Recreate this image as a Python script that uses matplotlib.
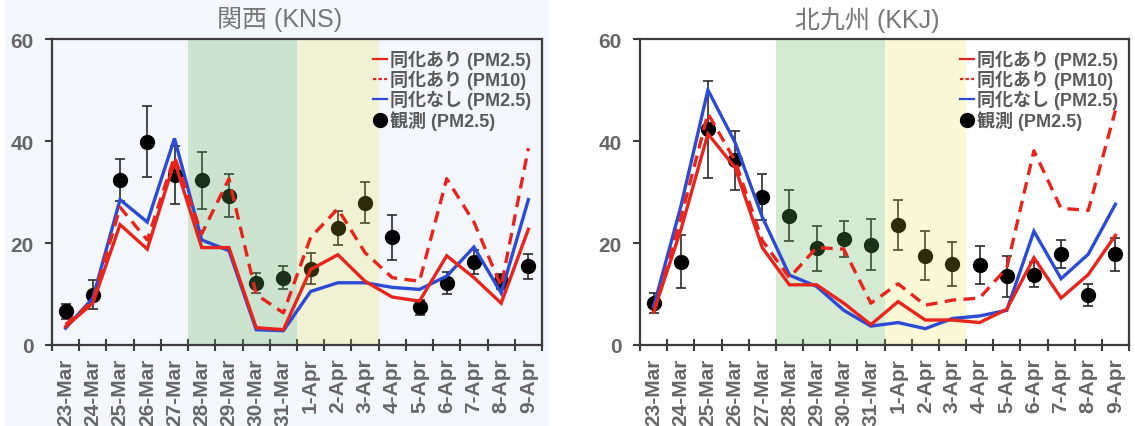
import matplotlib
matplotlib.use("Agg")
import matplotlib.pyplot as plt
from matplotlib.lines import Line2D
from matplotlib.patches import Rectangle
import numpy as np

plt.rcParams['font.family'] = ['Liberation Sans', 'Noto Sans CJK JP', 'DejaVu Sans']

# ---------------- data ----------------
dates = ["23-Mar", "24-Mar", "25-Mar", "26-Mar", "27-Mar", "28-Mar", "29-Mar", "30-Mar", "31-Mar",
         "1-Apr", "2-Apr", "3-Apr", "4-Apr", "5-Apr", "6-Apr", "7-Apr", "8-Apr", "9-Apr"]

titles = ["関西 (KNS)", "北九州 (KKJ)"]
legend_labels = ["同化あり (PM2.5)", "同化あり (PM10)", "同化なし (PM2.5)", "観測 (PM2.5)"]

# Kansai
kns_da_pm25 = [3.6, 8.2, 23.6, 18.8, 36.0, 19.1, 19.1, 3.4, 3.0, 14.8, 17.7, 12.5, 9.4, 8.6, 17.5, 13.2, 8.2, 22.7]
kns_da_pm10 = [4.0, 8.6, 27.0, 20.6, 36.9, 21.8, 32.6, 9.9, 6.3, 21.1, 26.7, 18.1, 13.2, 12.5, 32.6, 24.1, 11.5, 38.6]
kns_noda_pm25 = [3.3, 9.2, 28.5, 24.1, 40.5, 20.6, 18.5, 3.0, 2.8, 10.5, 12.2, 12.2, 11.3, 10.9, 13.5, 19.2, 10.2, 28.5]
kns_obs = [6.6, 9.9, 32.3, 39.9, 33.3, 32.3, 29.3, 12.2, 13.2, 15.0, 22.9, 27.9, 21.1, 7.4, 12.2, 16.3, 12.5, 15.4]
kns_obs_err = [1.5, 2.8, 4.1, 7.0, 5.7, 5.6, 4.2, 2.0, 2.2, 3.0, 3.3, 4.0, 4.4, 1.5, 2.2, 2.4, 1.5, 2.5]

# Kitakyushu
kkj_da_pm25 = [6.5, 22.5, 41.4, 34.8, 19.1, 11.8, 11.8, 8.2, 4.0, 8.5, 4.9, 4.9, 4.4, 7.0, 17.1, 9.2, 13.8, 21.5]
kkj_da_pm10 = [6.2, 24.8, 45.4, 36.1, 20.5, 13.2, 19.1, 18.8, 8.2, 12.0, 7.8, 8.8, 9.2, 15.1, 38.1, 26.8, 26.4, 46.0]
kkj_noda_pm25 = [7.5, 27.1, 50.0, 39.7, 25.1, 13.7, 11.5, 6.8, 3.7, 4.4, 3.2, 5.2, 5.7, 6.8, 22.3, 13.0, 17.8, 27.6]
kkj_obs = [8.2, 16.3, 42.3, 36.2, 29.0, 25.3, 19.0, 20.8, 19.7, 23.5, 17.5, 15.9, 15.7, 13.5, 13.8, 17.8, 9.8, 17.8]
kkj_obs_err = [2.0, 5.2, 9.5, 5.8, 4.5, 5.0, 4.4, 3.5, 5.0, 4.9, 4.8, 4.3, 3.8, 4.0, 2.4, 2.7, 2.1, 3.2]

green_span = ("28-Mar", "31-Mar")
yellow_span = ("1-Apr", "3-Apr")
yticks = [0, 20, 40, 60]

# ---------------- style ----------------
RED = '#e8251d'
BLUE = '#2c4bd4'
SPINE = '#3c3c3c'
TXT = '#666666'
GREEN_SPAN = (100/255, 178/255, 89/255)
YELLOW_SPAN = (235/255, 220/255, 50/255)
LEFT_BG = '#f3f7fc'

fig = plt.figure(figsize=(11.35, 4.27), dpi=100)
bg_rect = Rectangle((0.004, 0.0), 0.480, 1.0, transform=fig.transFigure,
                    facecolor=LEFT_BG, edgecolor='none', zorder=-10)
fig.patches.append(bg_rect)

W, H = 1135, 427
ax1 = fig.add_axes([52 / W, 81 / H, 490 / W, 306 / H])
ax2 = fig.add_axes([640 / W, 81 / H, 489 / W, 306 / H])
ax1.set_zorder(1)
ax2.set_zorder(1)

panels = [
    (ax1, kns_da_pm25, kns_da_pm10, kns_noda_pm25, kns_obs, kns_obs_err, LEFT_BG, 280),
    (ax2, kkj_da_pm25, kkj_da_pm10, kkj_noda_pm25, kkj_obs, kkj_obs_err, 'white', 867),
]

x = np.arange(len(dates))

for i, (ax, da25, da10, noda25, obs, err, bg, tx) in enumerate(panels):
    ax.set_facecolor(bg)
    # observations (under the shaded spans)
    ax.errorbar(x, obs, yerr=err, fmt='o', color='black', ms=10, ecolor='#2a2a2a',
                elinewidth=1.2, capsize=3.5, capthick=1.2, zorder=2)
    g0, g1 = dates.index(green_span[0]), dates.index(green_span[1])
    y0, y1 = dates.index(yellow_span[0]), dates.index(yellow_span[1])
    ax.axvspan(g0 - 0.5, g1 + 0.5, facecolor=GREEN_SPAN, alpha=0.27, lw=0, zorder=2.5)
    ax.axvspan(y0 - 0.5, y1 + 0.5, facecolor=YELLOW_SPAN, alpha=0.2, lw=0, zorder=2.5)
    # model lines
    ax.plot(x, noda25, color=BLUE, lw=2.4, zorder=4, solid_joinstyle='miter')
    ax.plot(x, da10, color=RED, lw=2.4, ls=(0, (3.5, 2.2)), zorder=4.1)
    ax.plot(x, da25, color=RED, lw=2.4, zorder=4.2, solid_joinstyle='miter')

    ax.set_xlim(-0.5, len(dates) - 0.5)
    ax.set_ylim(0, 60)
    ax.set_yticks(yticks)
    ax.set_yticklabels([str(v) for v in yticks])
    ax.set_xticks(x)
    ax.set_xticklabels(dates, rotation=90)
    ax.set_xticks(np.arange(-0.5, len(dates), 1.0), minor=True)
    ax.tick_params(axis='x', which='major', length=0, pad=9)
    ax.tick_params(axis='x', which='minor', length=8, width=1.5, direction='inout', color=SPINE)
    ax.tick_params(axis='y', which='major', length=5, width=1.5, direction='out', color=SPINE, pad=8)
    for lab in ax.get_xticklabels() + ax.get_yticklabels():
        lab.set_fontsize(15)
        lab.set_fontweight('bold')
        lab.set_color(TXT)
    for sp in ax.spines.values():
        sp.set_linewidth(1.6)
        sp.set_color(SPINE)

    handles = [
        Line2D([], [], color=RED, lw=1.6),
        Line2D([], [], color=RED, lw=1.6, ls=(0, (1.5, 1.0))),
        Line2D([], [], color=BLUE, lw=1.6),
        Line2D([], [], ls='none', marker='o', color='black', ms=10),
    ]
    leg = ax.legend(handles, legend_labels, loc='upper right', frameon=False,
                    prop={'size': 13, 'weight': 'bold'}, handlelength=0.8, handletextpad=0.15,
                    labelspacing=0.05, borderaxespad=0.2, borderpad=0.4)
    leg.set_zorder(10)
    for t in leg.get_texts():
        t.set_color('#5a5a5a')

    fig.text(tx / W, 1 - 20 / H, titles[i], ha='center', va='center', fontsize=18, color='#777777')

fig.savefig('out.png', dpi=100)
